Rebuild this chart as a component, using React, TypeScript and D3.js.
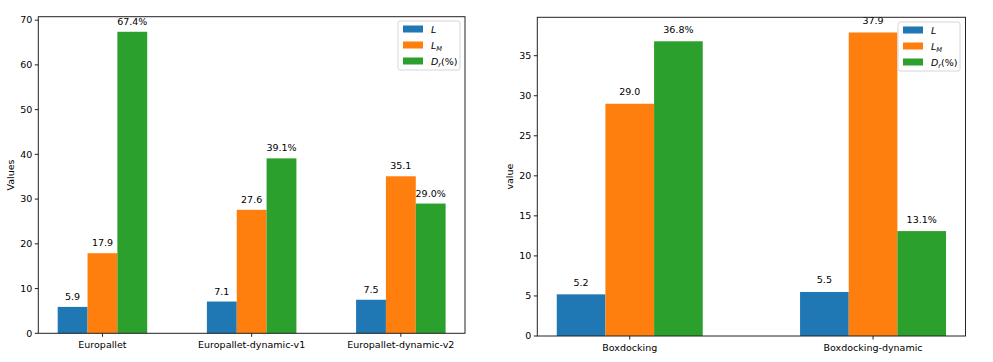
import { useEffect, useRef } from 'react';
import * as d3 from 'd3';

const leftCats = ['Europallet', 'Europallet-dynamic-v1', 'Europallet-dynamic-v2'];
const leftL = [5.9, 7.1, 7.5];
const leftLM = [17.9, 27.6, 35.1];
const leftDr = [67.4, 39.1, 29.0];
const leftTicks = [0, 10, 20, 30, 40, 50, 60, 70];

const rightCats = ['Boxdocking', 'Boxdocking-dynamic'];
const rightL = [5.2, 5.5];
const rightLM = [29.0, 37.9];
const rightDr = [36.8, 13.1];
const rightTicks = [0, 5, 10, 15, 20, 25, 30, 35];

const COLORS = ['#1f77b4', '#ff7f0e', '#2ca02c'];
const FONT = 'DejaVu Sans, sans-serif';
const FS = 9.5;

type Panel = {
  cats: string[];
  series: number[][];
  ticks: number[];
  ylabel: string;
  box: { l: number; r: number; t: number; b: number };
  ylabelX: number;
  legend: { x: number; y: number };
  labelGap: number;
};

function drawPanel(svg: d3.Selection<SVGSVGElement, unknown, null, undefined>, p: Panel) {
  const n = p.cats.length;
  const bw = 0.2;
  const lo = -0.3, hi = n - 1 + 0.3;
  const m = (hi - lo) * 0.05;
  const x = d3.scaleLinear().domain([lo - m, hi + m]).range([p.box.l, p.box.r]);
  const maxV = d3.max(p.series.flat()) as number;
  const y = d3.scaleLinear().domain([0, maxV * 1.05]).range([p.box.b, p.box.t]);

  const g = svg.append('g');

  p.series.forEach((vals, si) => {
    const off = (si - 1) * bw;
    vals.forEach((v, i) => {
      const x0 = x(i + off - bw / 2);
      const x1 = x(i + off + bw / 2);
      g.append('rect')
        .attr('x', x0).attr('y', y(v))
        .attr('width', x1 - x0).attr('height', y(0) - y(v))
        .attr('fill', COLORS[si]);
      g.append('text')
        .attr('x', (x0 + x1) / 2).attr('y', y(v) - p.labelGap)
        .attr('text-anchor', 'middle')
        .attr('font-family', FONT).attr('font-size', FS).attr('fill', '#000')
        .text(si === 2 ? `${v.toFixed(1)}%` : v.toFixed(1));
    });
  });

  // spines
  g.append('rect')
    .attr('x', p.box.l).attr('y', p.box.t)
    .attr('width', p.box.r - p.box.l).attr('height', p.box.b - p.box.t)
    .attr('fill', 'none').attr('stroke', '#222').attr('stroke-width', 1);

  // y ticks
  p.ticks.forEach(t => {
    g.append('line')
      .attr('x1', p.box.l - 3.5).attr('x2', p.box.l)
      .attr('y1', y(t)).attr('y2', y(t))
      .attr('stroke', '#222');
    g.append('text')
      .attr('x', p.box.l - 6).attr('y', y(t))
      .attr('dy', '0.35em').attr('text-anchor', 'end')
      .attr('font-family', FONT).attr('font-size', FS).attr('fill', '#000')
      .text(t);
  });

  // x ticks
  p.cats.forEach((c, i) => {
    g.append('line')
      .attr('x1', x(i)).attr('x2', x(i))
      .attr('y1', p.box.b).attr('y2', p.box.b + 3.5)
      .attr('stroke', '#222');
    g.append('text')
      .attr('x', x(i)).attr('y', p.box.b + 15)
      .attr('text-anchor', 'middle')
      .attr('font-family', FONT).attr('font-size', FS).attr('fill', '#000')
      .text(c);
  });

  const cy = (p.box.t + p.box.b) / 2;
  g.append('text')
    .attr('transform', `translate(${p.ylabelX},${cy}) rotate(-90)`)
    .attr('text-anchor', 'middle')
    .attr('font-family', FONT).attr('font-size', FS).attr('fill', '#000')
    .text(p.ylabel);

  // legend
  const lg = g.append('g').attr('transform', `translate(${p.legend.x},${p.legend.y})`);
  lg.append('rect')
    .attr('x', 0).attr('y', 0).attr('width', 62).attr('height', 49).attr('rx', 2)
    .attr('fill', '#fff').attr('fill-opacity', 0.8)
    .attr('stroke', '#d6d6d6');
  const labels = [
    [{ t: 'L', sub: false }],
    [{ t: 'L', sub: false }, { t: 'M', sub: true }],
    [{ t: 'D', sub: false }, { t: 'r', sub: true }, { t: '(%)', sub: false, up: true }],
  ];
  labels.forEach((parts, i) => {
    const ry = 8 + i * 16;
    lg.append('rect')
      .attr('x', 5).attr('y', ry - 3.5).attr('width', 20).attr('height', 7)
      .attr('fill', COLORS[i]);
    const tx = lg.append('text')
      .attr('x', 33).attr('y', ry + 3.5)
      .attr('font-family', FONT).attr('font-size', FS).attr('fill', '#000');
    parts.forEach((pt: any) => {
      const ts = tx.append('tspan').text(pt.t);
      if (pt.t !== '(%)') ts.attr('font-style', 'italic');
      if (pt.sub) ts.attr('font-size', FS * 0.7).attr('dy', 2);
      if (pt.up) ts.attr('dy', -2);
    });
  });
}

export default function App() {
  const ref = useRef<SVGSVGElement>(null);
  useEffect(() => {
    if (!ref.current) return;
    const svg = d3.select(ref.current);
    svg.selectAll('*').remove();
    drawPanel(svg, {
      cats: leftCats,
      series: [leftL, leftLM, leftDr],
      ticks: leftTicks,
      ylabel: 'Values',
      box: { l: 38.3, r: 465, t: 16.7, b: 333.3 },
      ylabelX: 14,
      legend: { x: 398, y: 21 },
      labelGap: 7,
    });
    drawPanel(svg, {
      cats: rightCats,
      series: [rightL, rightLM, rightDr],
      ticks: rightTicks,
      ylabel: 'value',
      box: { l: 537.3, r: 965.5, t: 17.3, b: 336 },
      ylabelX: 513,
      legend: { x: 898, y: 22 },
      labelGap: 8.5,
    });
  }, []);
  return (
    <svg
      ref={ref}
      width={993}
      height={362}
      style={{ position: 'absolute', left: 0, top: 0, background: '#fff' }}
    />
  );
}
